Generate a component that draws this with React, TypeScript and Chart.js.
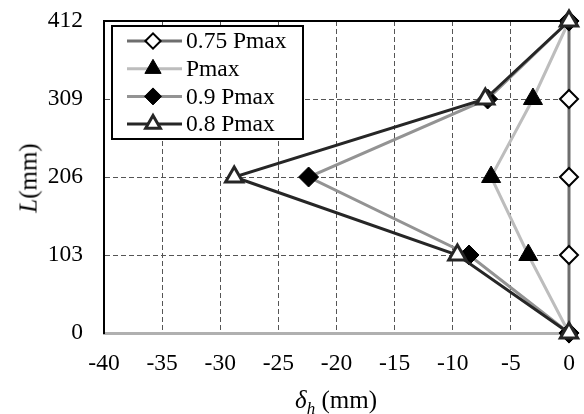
import React, { useEffect, useRef } from 'react';
import { Chart, registerables } from 'chart.js';

Chart.register(...registerables);

// ---- data ----
const heights = [0, 103, 206, 309, 412];
const seriesNames = ['0.75 Pmax', 'Pmax', '0.9 Pmax', '0.8 Pmax'];
const d075 = [0, 0, 0, 0, 0];
const dPmax = [0, -3.5, -6.7, -3.1, 0];
const d09 = [0, -8.6, -22.4, -7.0, 0];
const d08 = [0, -9.6, -28.8, -7.2, 0];
const xTicks = [-40, -35, -30, -25, -20, -15, -10, -5, 0];
const yTicks = [0, 103, 206, 309, 412];

const FONT = "'Liberation Serif', 'Times New Roman', serif";
const TICK_SIZE = 23.5;

type Sty = {
  line: string;
  shape: 'diamond' | 'triangle';
  r: number;
  fill: string;
  stroke: string;
  bw: number;
};

const styles: Sty[] = [
  { line: '#6e6e6e', shape: 'diamond', r: 9, fill: '#ffffff', stroke: '#000000', bw: 2 },
  { line: '#bdbdbd', shape: 'triangle', r: 11, fill: '#000000', stroke: '#000000', bw: 1 },
  { line: '#939393', shape: 'diamond', r: 10, fill: '#000000', stroke: '#000000', bw: 1 },
  { line: '#262626', shape: 'triangle', r: 10, fill: '#ffffff', stroke: '#262626', bw: 3 },
];

const seriesValues = [d075, dPmax, d09, d08];

function shapePath(ctx: CanvasRenderingContext2D, shape: string, x: number, y: number, r: number) {
  ctx.beginPath();
  if (shape === 'diamond') {
    ctx.moveTo(x - r, y);
    ctx.lineTo(x, y - r);
    ctx.lineTo(x + r, y);
    ctx.lineTo(x, y + r);
  } else {
    let rad = 0;
    ctx.moveTo(x + Math.sin(rad) * r, y - Math.cos(rad) * r);
    rad += (2 * Math.PI) / 3;
    ctx.lineTo(x + Math.sin(rad) * r, y - Math.cos(rad) * r);
    rad += (2 * Math.PI) / 3;
    ctx.lineTo(x + Math.sin(rad) * r, y - Math.cos(rad) * r);
  }
  ctx.closePath();
}

const framePlugin = {
  id: 'frameTop',
  beforeDatasetsDraw(chart: any) {
    const { ctx, chartArea } = chart;
    ctx.save();
    ctx.strokeStyle = '#000';
    ctx.lineWidth = 2;
    ctx.beginPath();
    ctx.moveTo(chartArea.left, chartArea.top);
    ctx.lineTo(chartArea.right, chartArea.top);
    ctx.stroke();
    ctx.restore();
  },
};

const legendPlugin = {
  id: 'innerLegend',
  afterDraw(chart: any) {
    const { ctx, chartArea } = chart;
    const bx = chartArea.left + 8;
    const by = chartArea.top + 5;
    const bw = 191;
    const bh = 113;
    ctx.save();
    ctx.fillStyle = '#fff';
    ctx.fillRect(bx, by, bw, bh);
    ctx.strokeStyle = '#000';
    ctx.lineWidth = 2;
    ctx.strokeRect(bx, by, bw, bh);
    ctx.font = `${TICK_SIZE}px ${FONT}`;
    ctx.textBaseline = 'middle';
    ctx.textAlign = 'left';
    for (let i = 0; i < seriesNames.length; i++) {
      const s = styles[i];
      const y = by + 15 + i * 27.7;
      ctx.strokeStyle = s.line;
      ctx.lineWidth = 3;
      ctx.beginPath();
      ctx.moveTo(bx + 15, y);
      ctx.lineTo(bx + 70, y);
      ctx.stroke();
      shapePath(ctx, s.shape, bx + 41, y, s.r * 0.85);
      ctx.fillStyle = s.fill;
      ctx.fill();
      ctx.lineWidth = s.bw;
      ctx.strokeStyle = s.stroke;
      ctx.stroke();
      ctx.fillStyle = '#000';
      ctx.fillText(seriesNames[i], bx + 74, y + 1);
    }
    ctx.restore();
  },
};

export default function App() {
  const ref = useRef<HTMLCanvasElement | null>(null);

  useEffect(() => {
    document.body.style.margin = '0';
    if (!ref.current) return;
    const datasets = seriesNames.map((name, i) => {
      const s = styles[i];
      return {
        label: name,
        data: seriesValues[i].map((v, j) => ({ x: v, y: heights[j] })),
        borderColor: s.line,
        borderWidth: 3,
        pointStyle: s.shape === 'diamond' ? 'rectRot' : 'triangle',
        pointRadius: s.r,
        pointBackgroundColor: s.fill,
        pointBorderColor: s.stroke,
        pointBorderWidth: s.bw,
        showLine: true,
        fill: false,
        tension: 0,
        order: seriesNames.length - 1 - i,
      };
    });

    const chart = new Chart(ref.current, {
      type: 'scatter',
      data: { datasets } as any,
      options: {
        animation: false,
        responsive: false,
        clip: false as any,
        layout: { padding: { left: 0, right: 15, top: 21, bottom: 0 } },
        plugins: { legend: { display: false }, tooltip: { enabled: false } },
        scales: {
          x: {
            type: 'linear',
            min: -40,
            max: 0,
            afterBuildTicks: (scale: any) => {
              scale.ticks = xTicks.map((v) => ({ value: v }));
            },
            afterFit: (scale: any) => {
              scale.height = 81;
              scale.paddingLeft = 0;
              scale.paddingRight = 0;
            },
            ticks: {
              color: '#000',
              font: { family: FONT, size: TICK_SIZE },
              padding: 17,
              maxRotation: 0,
            },
            grid: {
              color: (ctx: any) => (ctx.tick && (ctx.tick.value === -40 || ctx.tick.value === 0) ? 'rgba(0,0,0,0)' : '#555'),
              lineWidth: 1,
              drawTicks: false,
            },
            border: { display: true, color: '#b0b0b0', width: 3, dash: [5, 3] },
          },
          y: {
            type: 'linear',
            min: 0,
            max: 412,
            afterBuildTicks: (scale: any) => {
              scale.ticks = yTicks.map((v) => ({ value: v }));
            },
            afterFit: (scale: any) => {
              scale.width = 104;
              scale.paddingTop = 0;
              scale.paddingBottom = 0;
            },
            ticks: {
              color: '#000',
              font: { family: FONT, size: TICK_SIZE },
              padding: 21,
            },
            grid: {
              color: (ctx: any) => (ctx.tick && (ctx.tick.value === 0 || ctx.tick.value === 412) ? 'rgba(0,0,0,0)' : '#555'),
              lineWidth: 1,
              drawTicks: false,
            },
            border: { display: true, color: '#000', width: 2, dash: [5, 3] },
          },
        },
      } as any,
      plugins: [framePlugin, legendPlugin],
    });
    return () => chart.destroy();
  }, []);

  return (
    <div style={{ position: 'relative', width: 584, height: 414, background: '#fff', fontFamily: FONT }}>
      <canvas ref={ref} width={584} height={414} style={{ width: 584, height: 414, display: 'block' }} />
      <div
        style={{
          position: 'absolute',
          left: 28,
          top: 178,
          transform: 'translate(-50%, -50%) rotate(-90deg)',
          fontSize: 25,
          lineHeight: 1,
          whiteSpace: 'nowrap',
          color: '#000',
        }}
      >
        <i>L</i>(mm)
      </div>
      <div
        style={{
          position: 'absolute',
          left: 336,
          top: 399,
          transform: 'translate(-50%, -50%)',
          fontSize: 25,
          lineHeight: 1,
          whiteSpace: 'nowrap',
          color: '#000',
        }}
      >
        <i>δ</i>
        <span style={{ fontSize: 17, fontStyle: 'italic', position: 'relative', top: 6 }}>h</span> (mm)
      </div>
    </div>
  );
}
